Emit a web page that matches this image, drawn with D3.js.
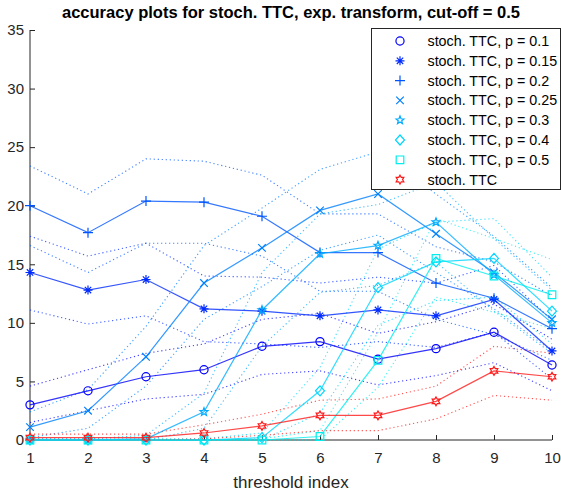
<!DOCTYPE html>
<html>
<head>
<meta charset="utf-8">
<script src="https://cdn.jsdelivr.net/npm/d3@7"></script>
<style>
  body { margin: 0; background: #fff; }
  text { font-family: "Liberation Sans", Arial, sans-serif; }
</style>
</head>
<body>
<script>
"use strict";

// threshold index 1..10
const thresholds = [1, 2, 3, 4, 5, 6, 7, 8, 9, 10];

const labels = [
  "stoch. TTC, p = 0.1",
  "stoch. TTC, p = 0.15",
  "stoch. TTC, p = 0.2",
  "stoch. TTC, p = 0.25",
  "stoch. TTC, p = 0.3",
  "stoch. TTC, p = 0.4",
  "stoch. TTC, p = 0.5",
  "stoch. TTC"
];

// mean accuracy, one array per curve
const p010 = [3.0, 4.2, 5.4, 6.0, 8.0, 8.4, 6.9, 7.8, 9.2, 6.4];
const p015 = [14.3, 12.8, 13.7, 11.2, 11.0, 10.6, 11.1, 10.6, 12.0, 7.6];
const p020 = [20.0, 17.7, 20.4, 20.3, 19.1, 16.0, 16.0, 13.4, 12.1, 9.5];
const p025 = [1.1, 2.5, 7.1, 13.4, 16.4, 19.6, 21.0, 17.6, 14.3, 10.3];
const p030 = [0.0, 0.0, 0.1, 2.4, 11.1, 15.9, 16.6, 18.6, 14.1, 10.0];
const p040 = [0.0, 0.0, 0.0, 0.0, 0.2, 4.2, 13.0, 15.2, 15.5, 11.0];
const p050 = [0.0, 0.0, 0.0, 0.0, 0.0, 0.3, 6.8, 15.5, 14.0, 12.4];
const ttc = [0.2, 0.2, 0.2, 0.6, 1.2, 2.1, 2.1, 3.3, 5.9, 5.4];

// dotted upper / lower bands
const p010Hi = [4.6, 6.0, 7.4, 8.2, 10.3, 10.8, 9.1, 10.1, 11.6, 8.6];
const p010Lo = [1.5, 2.5, 3.5, 3.9, 5.6, 5.9, 4.7, 5.5, 6.6, 4.2];
const p015Hi = [17.4, 15.7, 16.8, 14.0, 13.9, 13.4, 13.9, 13.4, 14.9, 10.2];
const p015Lo = [11.1, 9.9, 10.6, 8.4, 8.2, 7.9, 8.4, 7.9, 9.2, 5.2];
const p020Hi = [23.4, 21.0, 24.0, 23.8, 22.6, 19.3, 19.3, 16.5, 15.2, 12.3];
const p020Lo = [16.6, 14.3, 16.8, 16.8, 15.7, 12.7, 12.7, 10.3, 9.0, 6.8];
const p025Hi = [2.4, 4.3, 9.7, 16.6, 19.8, 23.1, 24.6, 21.0, 17.4, 13.0];
const p025Lo = [0.2, 1.0, 4.6, 10.3, 13.1, 16.2, 17.5, 14.3, 11.2, 7.6];
const p030Hi = [0.1, 0.1, 0.4, 4.0, 14.3, 19.3, 20.1, 22.0, 17.2, 12.8];
const p030Lo = [0.0, 0.0, 0.0, 1.0, 8.0, 12.6, 13.2, 15.2, 11.0, 7.4];
const p040Hi = [0.1, 0.1, 0.1, 0.1, 0.6, 6.2, 16.3, 18.6, 18.9, 13.9];
const p040Lo = [0.0, 0.0, 0.0, 0.0, 0.0, 2.3, 9.8, 11.9, 12.2, 8.2];
const p050Hi = [0.0, 0.0, 0.0, 0.0, 0.1, 0.8, 9.2, 18.9, 17.2, 15.4];
const p050Lo = [0.0, 0.0, 0.0, 0.0, 0.0, 0.0, 4.5, 12.2, 10.9, 9.5];
const ttcHi = [0.5, 0.5, 0.5, 1.3, 2.2, 3.4, 3.5, 4.6, 8.0, 7.4];
const ttcLo = [0.0, 0.0, 0.0, 0.1, 0.4, 0.8, 0.8, 1.8, 3.8, 3.4];

const yTicks = [0, 5, 10, 15, 20, 25, 30, 35];

const colors = ["#0000ff", "#002bff", "#0055ff", "#0080ff", "#00aaff", "#00d5ff", "#00eeee", "#ff1a1a"];
const markers = ["circle", "asterisk", "plus", "cross", "pentagram", "diamond", "square", "hexagram"];

const series = [
  { mean: p010, hi: p010Hi, lo: p010Lo },
  { mean: p015, hi: p015Hi, lo: p015Lo },
  { mean: p020, hi: p020Hi, lo: p020Lo },
  { mean: p025, hi: p025Hi, lo: p025Lo },
  { mean: p030, hi: p030Hi, lo: p030Lo },
  { mean: p040, hi: p040Hi, lo: p040Lo },
  { mean: p050, hi: p050Hi, lo: p050Lo },
  { mean: ttc, hi: ttcHi, lo: ttcLo }
].map((s, i) => Object.assign(s, { label: labels[i], color: colors[i], marker: markers[i] }));

const width = 561, height = 493;

let svg = d3.select("body").append("svg")
  .attr("width", width)
  .attr("height", height);

const x = d3.scaleLinear().domain([1, 10]).range([30, 552]);
const y = d3.scaleLinear().domain([0, 35]).range([440, 30]);

function starPath(rOut, rIn, n) {
  let pts = [];
  for (let k = 0; k < 2 * n; k++) {
    const r = k % 2 === 0 ? rOut : rIn;
    const a = -Math.PI / 2 + (k * Math.PI) / n;
    pts.push([r * Math.cos(a), r * Math.sin(a)]);
  }
  return "M" + pts.map(p => p[0].toFixed(2) + "," + p[1].toFixed(2)).join("L") + "Z";
}

function markerPath(type) {
  switch (type) {
    case "circle": return d3.symbol(d3.symbolCircle, 52)();
    case "asterisk": {
      const r = 4.5, k = 3.2;
      return `M${-r},0L${r},0M0,${-r}L0,${r}M${-k},${-k}L${k},${k}M${-k},${k}L${k},${-k}`;
    }
    case "plus": return "M-5,0L5,0M0,-5L0,5";
    case "cross": return "M-3.8,-3.8L3.8,3.8M-3.8,3.8L3.8,-3.8";
    case "pentagram": return starPath(4.2, 1.8, 5);
    case "diamond": return "M0,-5L4.5,0L0,5L-4.5,0Z";
    case "square": return "M-3.8,-3.8L3.8,-3.8L3.8,3.8L-3.8,3.8Z";
    case "hexagram": return starPath(4.4, 2.55, 6);
  }
}

// axes
const yAxis = d3.axisLeft(y).tickValues(yTicks).tickSize(-5).tickPadding(6);
const xAxis = d3.axisBottom(x).tickValues(thresholds).tickSize(-5).tickPadding(12);

const gy = svg.append("g").attr("transform", "translate(30,0)").call(yAxis);
const gx = svg.append("g").attr("transform", "translate(0,440)").call(xAxis);

[gx, gy].forEach(g => {
  g.select(".domain").attr("stroke", "#262626").attr("stroke-width", 1);
  g.selectAll(".tick line").attr("stroke", "#262626");
  g.selectAll(".tick text")
    .attr("fill", "#262626")
    .style("font-size", "15px")
    .style("font-family", "Liberation Sans, Arial, sans-serif");
});
// domain lines without outer ticks
gy.select(".domain").attr("d", `M0,${y(35)}V${y(0)}`);
gx.select(".domain").attr("d", `M${x(1)},0H${x(10)}`);

const line = d3.line()
  .x((d, i) => x(thresholds[i]))
  .y(d => y(d));

const plot = svg.append("g");

// dotted bands
series.forEach(s => {
  [s.hi, s.lo].forEach(band => {
    plot.append("path")
      .datum(band)
      .attr("d", line)
      .attr("fill", "none")
      .attr("stroke", s.color)
      .attr("stroke-width", 1.1)
      .attr("stroke-dasharray", "1.2,2.8")
      .attr("opacity", 0.75);
  });
});

// solid mean lines with markers
series.forEach(s => {
  plot.append("path")
    .datum(s.mean)
    .attr("d", line)
    .attr("fill", "none")
    .attr("stroke", s.color)
    .attr("stroke-width", 1.2)
    .attr("opacity", 0.8);

  plot.selectAll(null)
    .data(s.mean)
    .enter()
    .append("path")
    .attr("d", markerPath(s.marker))
    .attr("transform", (d, i) => `translate(${x(thresholds[i])},${y(d)})`)
    .attr("fill", "none")
    .attr("stroke", s.color)
    .attr("stroke-width", 1.2);
});

// title and axis label
svg.append("text")
  .attr("x", 291)
  .attr("y", 18)
  .attr("text-anchor", "middle")
  .style("font-size", "16.5px")
  .style("font-weight", "bold")
  .attr("fill", "#000")
  .text("accuracy plots for stoch. TTC, exp. transform, cut-off = 0.5");

svg.append("text")
  .attr("x", 291)
  .attr("y", 488)
  .attr("text-anchor", "middle")
  .style("font-size", "17px")
  .attr("fill", "#262626")
  .text("threshold index");

// legend
const legend = svg.append("g");
legend.append("rect")
  .attr("x", 371.5)
  .attr("y", 28.5)
  .attr("width", 189)
  .attr("height", 161)
  .attr("fill", "#fff")
  .attr("stroke", "#262626")
  .attr("stroke-width", 1);

const rows = legend.selectAll("g.row")
  .data(series)
  .enter()
  .append("g")
  .attr("class", "row")
  .attr("transform", (d, i) => `translate(0,${41 + i * 19.8})`);

rows.append("path")
  .attr("d", d => markerPath(d.marker))
  .attr("transform", "translate(400,0)")
  .attr("fill", "none")
  .attr("stroke", d => d.color)
  .attr("stroke-width", 1.2);

rows.append("text")
  .attr("x", 427.5)
  .attr("y", 5)
  .style("font-size", "14.3px")
  .attr("fill", "#000")
  .text(d => d.label);
</script>
</body>
</html>
